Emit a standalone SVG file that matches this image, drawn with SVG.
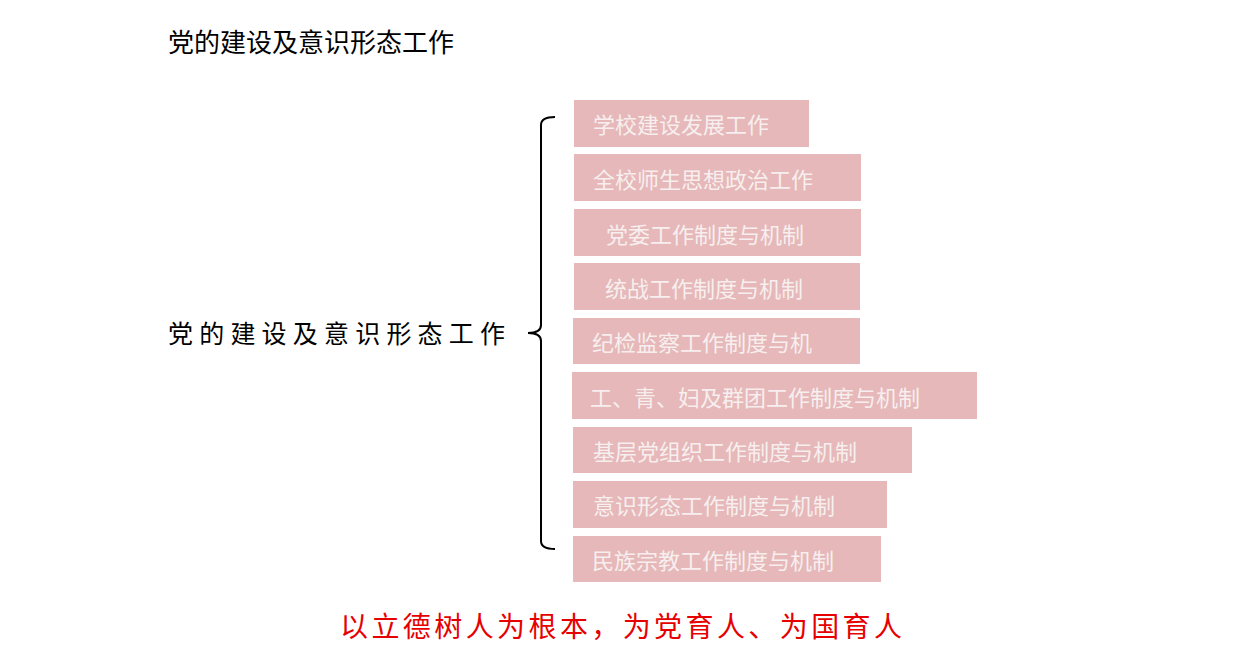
<svg xmlns="http://www.w3.org/2000/svg" width="1241" height="672" viewBox="0 0 1241 672">
<style>
.t{font-family:"Noto Sans CJK SC","Liberation Sans",sans-serif}
.b{fill:#e6b8b9}
.bt{fill:#f7efef;font-size:22px}
</style>
<rect width="1241" height="672" fill="#fff"/>
<text class="t" x="168" y="52" font-size="26" fill="#000">党的建设及意识形态工作</text>
<text class="t" x="168" y="343" font-size="25" fill="#000" textLength="337" lengthAdjust="spacing">党的建设及意识形态工作</text>
<g id="connectors"><path d="M555,117 Q541,117 541,125 V325 Q541,333 528,333 Q541,333 541,341 V541 Q541,549 555,549" fill="none" stroke="#000" stroke-width="2"/></g>
<g id="n1"><rect class="b" x="574" y="100" width="235" height="47"/><text class="t bt" x="593" y="133">学校建设发展工作</text></g>
<g id="n2"><rect class="b" x="574" y="154" width="287" height="47"/><text class="t bt" x="593" y="188">全校师生思想政治工作</text></g>
<g id="n3"><rect class="b" x="574" y="209" width="287" height="47"/><text class="t bt" x="606" y="243">党委工作制度与机制</text></g>
<g id="n4"><rect class="b" x="574" y="263" width="286" height="47"/><text class="t bt" x="605" y="297">统战工作制度与机制</text></g>
<g id="n5"><rect class="b" x="573" y="318" width="287" height="46"/><text class="t bt" x="592" y="351">纪检监察工作制度与机</text></g>
<g id="n6"><rect class="b" x="572" y="372" width="405" height="47"/><text class="t bt" x="590" y="406">工、青、妇及群团工作制度与机制</text></g>
<g id="n7"><rect class="b" x="573" y="427" width="339" height="46"/><text class="t bt" x="593" y="460">基层党组织工作制度与机制</text></g>
<g id="n8"><rect class="b" x="573" y="481" width="314" height="47"/><text class="t bt" x="593" y="514">意识形态工作制度与机制</text></g>
<g id="n9"><rect class="b" x="573" y="536" width="308" height="46"/><text class="t bt" x="592" y="569">民族宗教工作制度与机制</text></g>
<text class="t" x="340" y="637" font-size="28" fill="#e60000" textLength="562" lengthAdjust="spacing">以立德树人为根本，为党育人、为国育人</text>
</svg>
